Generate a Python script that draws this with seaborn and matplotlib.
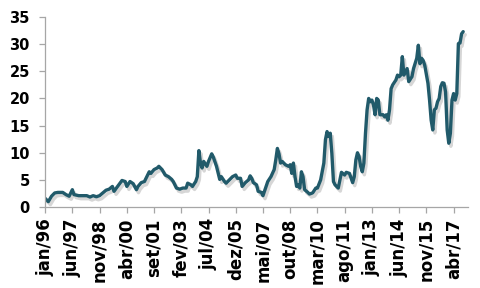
import matplotlib
matplotlib.use("Agg")
import matplotlib.pyplot as plt
import matplotlib.patheffects as pe
import seaborn as sns
import pandas as pd

# month index since jan/1996
months = [0, 2, 4, 6, 8, 11, 13, 15, 17, 18, 21, 26, 28, 30, 32, 34, 36, 38, 40, 42,
          43, 45, 47, 48, 50, 51, 53, 55, 57, 58, 60, 62, 63, 65, 66, 68, 70, 71, 73, 75,
          77, 79, 80, 82, 84, 86, 88, 89, 91, 92, 94, 95, 96, 97, 98, 99, 101, 102, 104, 105,
          107, 109, 110, 112, 113, 115, 117, 119, 120, 122, 123, 125, 127, 128, 129, 130, 132, 133, 135, 136,
          138, 139, 141, 143, 144, 145, 146, 147, 148, 150, 152, 153, 154, 155, 156, 157, 158, 159, 160, 161,
          162, 164, 165, 167, 169, 170, 172, 174, 175, 176, 177, 178, 179, 180, 181, 183, 184, 185, 187, 188,
          190, 192, 193, 194, 195, 196, 197, 198, 199, 200, 201, 202, 203, 204, 205, 206, 207, 208, 209, 211,
          212, 213, 214, 215, 216, 217, 219, 220, 221, 222, 223, 224, 225, 226, 227, 229, 230, 232, 233, 234,
          235, 236, 237, 239, 240, 241, 242, 243, 244, 245, 246, 247, 248, 249, 250, 251, 252, 253, 254, 255,
          256, 257, 258, 259, 260, 261]
values = [1.6, 1.0, 2.0, 2.6, 2.7, 2.7, 2.3, 2.0, 3.2, 2.3, 2.1, 2.1, 1.85, 2.1, 1.9, 2.1, 2.6, 3.1, 3.3, 3.8,
          2.9, 3.7, 4.5, 4.9, 4.7, 3.8, 4.7, 4.3, 3.2, 3.8, 4.5, 4.7, 5.3, 6.5, 6.2, 6.9, 7.2, 7.5, 6.9, 5.9,
          5.6, 5.1, 4.7, 3.5, 3.3, 3.5, 3.5, 4.4, 4.1, 3.8, 4.7, 5.6, 10.4, 8.1, 7.2, 8.4, 7.5, 8.4, 9.8, 9.2,
          7.5, 5.1, 5.6, 4.7, 4.4, 5.0, 5.6, 5.9, 5.3, 5.3, 3.8, 4.5, 5.0, 5.75, 5.3, 4.5, 4.1, 2.9, 2.7, 2.1,
          3.8, 4.7, 5.6, 6.9, 8.7, 10.8, 9.8, 8.1, 8.4, 7.8, 7.5, 7.8, 6.2, 8.1, 5.6, 3.8, 4.1, 3.5, 6.5, 5.6,
          3.2, 2.7, 2.4, 2.6, 3.5, 3.5, 5.0, 8.1, 12.4, 13.9, 13.0, 13.6, 9.9, 4.7, 4.1, 3.5, 5.0, 6.4, 5.9, 6.4,
          6.2, 4.5, 5.6, 8.7, 10.0, 9.3, 7.5, 6.5, 8.1, 13.6, 17.9, 20.0, 19.4, 19.7, 18.8, 17.0, 20.0, 19.7, 17.0, 17.0,
          16.6, 17.0, 16.0, 17.9, 21.8, 22.5, 23.4, 24.3, 24.0, 24.3, 27.7, 24.3, 24.9, 25.5, 23.1, 24.0, 25.5, 27.4, 29.8, 26.4,
          27.4, 27.0, 26.1, 22.8, 19.7, 16.0, 14.2, 17.9, 18.2, 19.4, 20.0, 22.2, 22.9, 22.8, 21.2, 14.2, 11.75, 13.6, 19.7, 20.9,
          19.7, 20.9, 30.1, 30.2, 31.9, 32.3]

tick_labels = ["jan/96", "jun/97", "nov/98", "abr/00", "set/01", "fev/03", "jul/04", "dez/05",
               "mai/07", "out/08", "mar/10", "ago/11", "jan/13", "jun/14", "nov/15", "abr/17"]
tick_positions = [17 * i for i in range(len(tick_labels))]
y_ticks = [0, 5, 10, 15, 20, 25, 30, 35]

df = pd.DataFrame({"month": months, "value": values})

sns.set_style("white")
plt.rcParams["font.family"] = ["DejaVu Sans"]

fig = plt.figure(figsize=(4.8, 2.88), dpi=100)
ax = fig.add_axes([0.094, 0.281, 0.881, 0.660])

sns.lineplot(data=df, x="month", y="value", ax=ax, color="#215A6A", linewidth=2.4,
             path_effects=[pe.SimpleLineShadow(offset=(1.5, -2.2), shadow_color="#8A8A8A", alpha=0.35),
                           pe.Normal()])

ax.set_xlim(0, 264)
ax.set_ylim(0, 35)
ax.set_xticks(tick_positions)
ax.set_xticklabels(tick_labels, rotation=90, fontsize=12, fontweight="bold", color="black")
ax.set_yticks(y_ticks)
ax.set_yticklabels([str(v) for v in y_ticks], fontsize=10.5, fontweight="bold", color="black")
ax.set_xlabel("")
ax.set_ylabel("")

for side in ["top", "right"]:
    ax.spines[side].set_visible(False)
for side in ["left", "bottom"]:
    ax.spines[side].set_color("#A6A6A6")
    ax.spines[side].set_linewidth(0.9)
ax.tick_params(axis="both", which="major", direction="out", length=4, width=0.9,
               color="#A6A6A6")
ax.tick_params(axis="x", bottom=True, pad=4)
ax.tick_params(axis="y", left=True, pad=7)

fig.savefig("out.png", dpi=100)
